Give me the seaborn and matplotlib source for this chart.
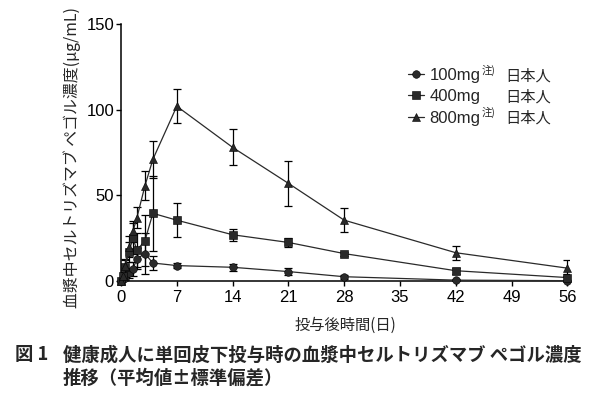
import numpy as np
import pandas as pd
import matplotlib
matplotlib.use("Agg")
import matplotlib.pyplot as plt
import seaborn as sns

# ---- data ----
days = [0, 0.25, 0.5, 1, 1.5, 2, 3, 4, 7, 14, 21, 28, 42, 56]
mean_100 = [0, 1, 2, 4.5, 7, 13, 16, 10.5, 9, 8, 5.5, 2.5, 0.5, 0.2]
sd_100 = [0, 0.5, 1.5, 3, 4, 6, 12, 4, 1.5, 2, 2, 1.2, 0.5, 0.3]
mean_400 = [0, 3, 8, 17, 25, 18, 23.5, 39.5, 35.5, 27, 22.5, 16, 6, 2]
sd_400 = [0, 1.5, 4, 6, 9, 10, 15, 22, 10, 3.5, 2.5, 1.2, 1.8, 1.8]
mean_800 = [0, 3, 9, 20, 29, 37, 55.5, 71, 102, 78, 57, 35.5, 16.5, 7.5]
sd_800 = [0, 2, 4, 6, 6, 6, 8.5, 11, 10, 10.5, 13, 7, 4, 4.5]
doses = ["100mg", "400mg", "800mg"]
x_ticks = [0, 7, 14, 21, 28, 35, 42, 49, 56]
y_ticks = [0, 50, 100, 150]
y_label = "血漿中セルトリズマブ ペゴル濃度(μg/mL)"
x_label = "投与後時間(日)"
caption1_a = "図 1"
caption1_b = "健康成人に単回皮下投与時の血漿中セルトリズマブ ペゴル濃度"
caption2 = "推移（平均値±標準偏差）"

sns.set_style("ticks")
plt.rcParams["font.family"] = ["Liberation Sans", "Noto Sans CJK JP", "DejaVu Sans"]
plt.rcParams["axes.unicode_minus"] = False

W, H = 594, 398
fig = plt.figure(figsize=(W / 100, H / 100), dpi=100)
fig.patch.set_facecolor("white")
L, R, T, B = 121, 569, 24, 281
ax = fig.add_axes([L / W, 1 - B / H, (R - L) / W, (B - T) / H])

means = [mean_100, mean_400, mean_800]
sds = [sd_100, sd_400, sd_800]
df = pd.DataFrame({
    "day": np.concatenate([days] * 3),
    "conc": np.concatenate(means),
    "dose": np.repeat(doses, len(days)),
})

sns.lineplot(data=df, x="day", y="conc", hue="dose", style="dose",
             markers=["o", "s", "^"], dashes=False,
             palette=["#2a2a2a"] * 3, linewidth=0.9, markersize=5.5,
             markeredgecolor="black", markeredgewidth=0.4,
             clip_on=False, ax=ax, legend=True, zorder=3)

for m, s in zip(means, sds):
    ax.errorbar(days, m, yerr=s, fmt="none", ecolor="black",
                elinewidth=0.9, capsize=2.8, capthick=0.9, zorder=2)

ax.set_xlim(0, 56.2)
ax.set_ylim(0, 150)
ax.set_xticks(x_ticks)
ax.set_yticks(y_ticks)
ax.tick_params(axis="both", direction="out", length=3.5, width=1.0,
               labelsize=12, color="black", labelcolor="black")
ax.tick_params(axis="y", pad=1.5)
ax.tick_params(axis="x", pad=3)
for sp in ["top", "right"]:
    ax.spines[sp].set_visible(False)
for sp in ["left", "bottom"]:
    ax.spines[sp].set_linewidth(1.1)
    ax.spines[sp].set_color("black")

ax.set_ylabel(y_label, fontsize=11.4, family=["Noto Sans CJK JP", "DejaVu Sans"])
ax.yaxis.set_label_coords(-(L - 81) / (R - L), 0.48)
ax.set_xlabel(x_label, fontsize=11, family=["Noto Sans CJK JP", "DejaVu Sans"])
ax.xaxis.set_label_coords(0.5, -(317 - B) / (B - T))

handles, labels = ax.get_legend_handles_labels()
leg = ax.legend(handles, doses, loc="upper left",
                bbox_to_anchor=(408 / W, 1 - 68 / H),
                bbox_transform=fig.transFigure, frameon=False,
                fontsize=12, handlelength=0.95, handletextpad=0.35,
                labelspacing=0.38, borderpad=0, borderaxespad=0)

cjk = ["Noto Sans CJK JP", "DejaVu Sans"]
for yy in [75.7, 97.3, 118.5]:
    fig.text(505 / W, 1 - yy / H, "日本人", fontsize=11, family=cjk,
             ha="left", va="center")
for yy in [70, 112]:
    fig.text(482 / W, 1 - yy / H, "注)", fontsize=7.5, family=cjk,
             ha="left", va="center")

fig.text(15 / W, 1 - 355 / H, caption1_a, fontsize=13.2, fontweight="bold",
         family=cjk, ha="left", va="center")
fig.text(63 / W, 1 - 355 / H, caption1_b, fontsize=13.2, fontweight="bold",
         family=cjk, ha="left", va="center")
fig.text(63 / W, 1 - 378 / H, caption2, fontsize=13.2, fontweight="bold",
         family=cjk, ha="left", va="center")

fig.savefig("out.png", dpi=100, facecolor="white")
